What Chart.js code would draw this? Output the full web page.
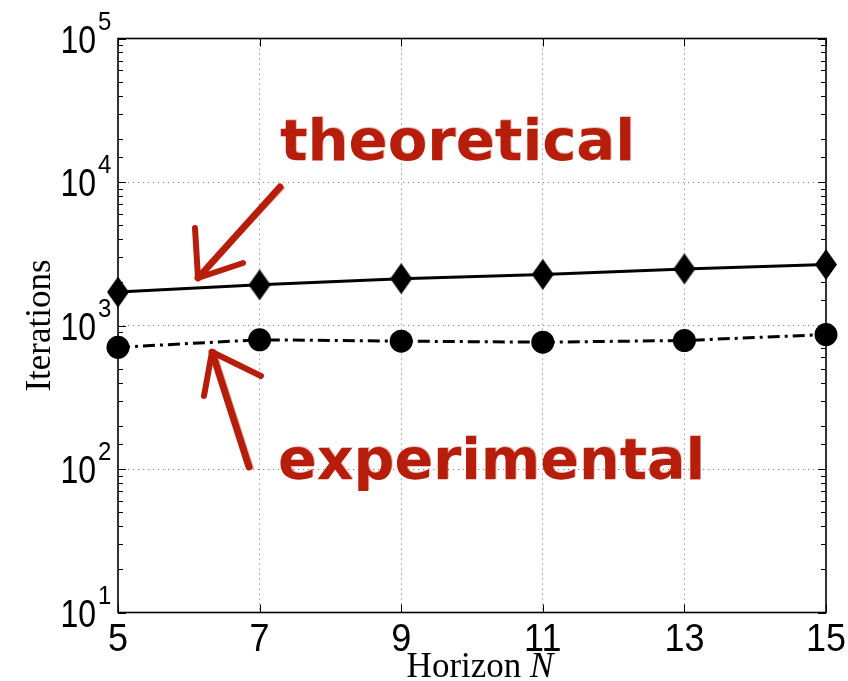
<!DOCTYPE html>
<html>
<head>
<meta charset="utf-8">
<title>Iterations vs horizon</title>
<script src="https://cdn.jsdelivr.net/npm/chart.js@4.4.1/dist/chart.umd.min.js"></script>
<style>
    body { margin: 0; background: #fff; }
    #wrap { width: 848px; height: 681px; position: relative; }
</style>
</head>
<body>
<div id="wrap"><canvas id="myChart"></canvas></div>
<script>
// values
const horizon = [5, 7, 9, 11, 13, 15];
const theoretical = [1710, 1920, 2120, 2270, 2480, 2660];
const experimental = [705, 795, 778, 765, 786, 865];
const xTickValues = [5, 7, 9, 11, 13, 15];
const yTickExponents = [1, 2, 3, 4, 5];

const RED = '#b61d0b';

function makeDiamond(w, h) {
    const c = document.createElement('canvas');
    c.width = w;
    c.height = h;
    const g = c.getContext('2d');
    g.fillStyle = '#000';
    g.beginPath();
    g.moveTo(w / 2, 0);
    g.lineTo(w, h / 2);
    g.lineTo(w / 2, h);
    g.lineTo(0, h / 2);
    g.closePath();
    g.fill();
    return c;
};

function isDecade(v) {
    const l = Math.log10(v);
    return Math.abs(l - Math.round(l)) < 1e-9;
};

function handText(ctx, text, left, right, baseline, size) {
    ctx.save();
    ctx.font = 'bold ' + size + 'px "DejaVu Sans"';
    ctx.fillStyle = RED;
    ctx.textAlign = 'left';
    ctx.textBaseline = 'alphabetic';
    const w = ctx.measureText(text).width;
    ctx.translate(left, baseline);
    ctx.scale((right - left) / w, 1.1);
    ctx.fillText(text, 0, 0);
    ctx.globalAlpha = 0.3;
    ctx.fillText(text, 0.8, -0.8);
    ctx.restore();
};

function handArrow(ctx, tail, tip, barbA, barbB) {
    ctx.save();
    ctx.strokeStyle = RED;
    ctx.lineCap = 'round';
    ctx.lineJoin = 'round';
    ctx.lineWidth = 7;
    ctx.beginPath();
    ctx.moveTo(tail[0], tail[1]);
    ctx.lineTo(tip[0], tip[1]);
    ctx.stroke();
    ctx.lineWidth = 6;
    ctx.beginPath();
    ctx.moveTo(barbA[0], barbA[1]);
    ctx.lineTo(tip[0], tip[1]);
    ctx.lineTo(barbB[0], barbB[1]);
    ctx.stroke();
    ctx.globalAlpha = 0.4;
    ctx.lineWidth = 2;
    ctx.beginPath();
    ctx.moveTo(tail[0] + 4, tail[1] + 1);
    ctx.lineTo(tip[0] + 3, tip[1] - 2);
    ctx.stroke();
    ctx.restore();
};

// frame, inward ticks
const framePlugin = {
    id: 'frame',
    beforeDatasetsDraw(chart) {
        const ctx = chart.ctx;
        const a = chart.chartArea;
        const xs = chart.scales.x;
        const ys = chart.scales.y;
        ctx.save();
        ctx.strokeStyle = '#000';
        ctx.lineWidth = 1;
        ctx.beginPath();
        xTickValues.forEach(v => {
            const px = Math.round(xs.getPixelForValue(v)) + 0.5;
            ctx.moveTo(px, a.bottom);
            ctx.lineTo(px, a.bottom - 8);
            ctx.moveTo(px, a.top);
            ctx.lineTo(px, a.top + 8);
        });
        ys.ticks.forEach(t => {
            const py = Math.round(ys.getPixelForValue(t.value)) + 0.5;
            const len = isDecade(t.value) ? 8 : 5;
            ctx.moveTo(a.left, py);
            ctx.lineTo(a.left + len, py);
            ctx.moveTo(a.right, py);
            ctx.lineTo(a.right - len, py);
        });
        ctx.stroke();
        ctx.lineWidth = 1.6;
        ctx.strokeRect(a.left, a.top, a.right - a.left, a.bottom - a.top);
        ctx.restore();
    }
};

// tick labels, axis titles and the hand written notes
const labelPlugin = {
    id: 'labels',
    afterDraw(chart) {
        const ctx = chart.ctx;
        const a = chart.chartArea;
        const xs = chart.scales.x;
        const ys = chart.scales.y;
        ctx.save();
        ctx.fillStyle = '#000';
        ctx.textBaseline = 'alphabetic';

        xTickValues.forEach(v => {
            ctx.save();
            ctx.font = '36px "Liberation Sans"';
            ctx.textAlign = 'center';
            ctx.translate(xs.getPixelForValue(v), a.bottom + 38);
            ctx.scale(1, 1.08);
            ctx.fillText(String(v), 0, 0);
            ctx.restore();
        });

        yTickExponents.forEach(e => {
            const py = ys.getPixelForValue(Math.pow(10, e));
            ctx.save();
            ctx.font = '32px "Liberation Sans"';
            ctx.textAlign = 'right';
            ctx.translate(a.left - 22, py + 14);
            ctx.scale(1, 1.2);
            ctx.fillText('10', 0, 0);
            ctx.restore();
            ctx.save();
            ctx.font = '24px "Liberation Sans"';
            ctx.textAlign = 'left';
            ctx.translate(a.left - 20, py - 9);
            ctx.scale(1, 1.05);
            ctx.fillText(String(e), 0, 0);
            ctx.restore();
        });

        // x title: Horizon N
        ctx.font = '35px "Liberation Serif"';
        const w1 = ctx.measureText('Horizon ').width;
        ctx.font = 'italic 35px "Liberation Serif"';
        const w2 = ctx.measureText('N').width;
        const startX = (a.left + a.right) / 2 + 8 - (w1 + w2) / 2;
        ctx.textAlign = 'left';
        ctx.font = '35px "Liberation Serif"';
        ctx.fillText('Horizon ', startX, 677);
        ctx.font = 'italic 35px "Liberation Serif"';
        ctx.fillText('N', startX + w1, 677);

        // y title
        ctx.save();
        ctx.translate(50, (a.top + a.bottom) / 2);
        ctx.rotate(-Math.PI / 2);
        ctx.textAlign = 'center';
        ctx.font = '35px "Liberation Serif"';
        ctx.fillText('Iterations', 0, 0);
        ctx.restore();
        ctx.restore();

        handText(ctx, 'theoretical', 280, 635, 160, 52);
        handText(ctx, 'experimental', 278, 705, 479, 52);
        handArrow(ctx, [280, 187], [198, 278], [195, 228], [243, 263]);
        handArrow(ctx, [249, 467], [212, 352], [204, 396], [261, 376]);
    }
};

const ctx = document.getElementById('myChart').getContext('2d');
const myChart = new Chart(ctx, {
    type: 'line',
    data: {
        datasets: [
            {
                label: 'theoretical',
                data: horizon.map((n, i) => ({ x: n, y: theoretical[i] })),
                borderColor: '#000',
                backgroundColor: '#000',
                borderWidth: 3,
                pointStyle: makeDiamond(22, 31),
                pointRadius: 11,
                clip: false
            },
            {
                label: 'experimental',
                data: horizon.map((n, i) => ({ x: n, y: experimental[i] })),
                borderColor: '#000',
                backgroundColor: '#000',
                borderWidth: 3,
                borderDash: [12, 5, 3, 5],
                pointStyle: 'circle',
                pointRadius: 11.5,
                pointBorderWidth: 0,
                clip: false
            }
        ]
    },
    options: {
        responsive: true,
        maintainAspectRatio: false,
        animation: false,
        layout: { padding: { left: 0, right: 22, top: 38.5, bottom: 0 } },
        plugins: {
            legend: { display: false },
            tooltip: { enabled: false }
        },
        elements: { line: { tension: 0 } },
        scales: {
            x: {
                type: 'linear',
                min: 5,
                max: 15,
                ticks: { display: false, stepSize: 2 },
                grid: {
                    drawTicks: false,
                    lineWidth: 1,
                    color: (c) => (c.tick && c.tick.value > 5 && c.tick.value < 15) ? 'rgba(0,0,0,0.5)' : 'rgba(0,0,0,0)'
                },
                border: { display: false, dash: [1.2, 3.8] },
                afterFit: (s) => { s.height = 68.5; }
            },
            y: {
                type: 'logarithmic',
                min: 10,
                max: 100000,
                ticks: { display: false },
                grid: {
                    drawTicks: false,
                    lineWidth: 1,
                    color: (c) => (c.tick && isDecade(c.tick.value) && c.tick.value > 10 && c.tick.value < 100000) ? 'rgba(0,0,0,0.5)' : 'rgba(0,0,0,0)'
                },
                border: { display: false, dash: [1.2, 3.8] },
                afterFit: (s) => { s.width = 118; }
            }
        }
    },
    plugins: [framePlugin, labelPlugin]
});
</script>
</body>
</html>
